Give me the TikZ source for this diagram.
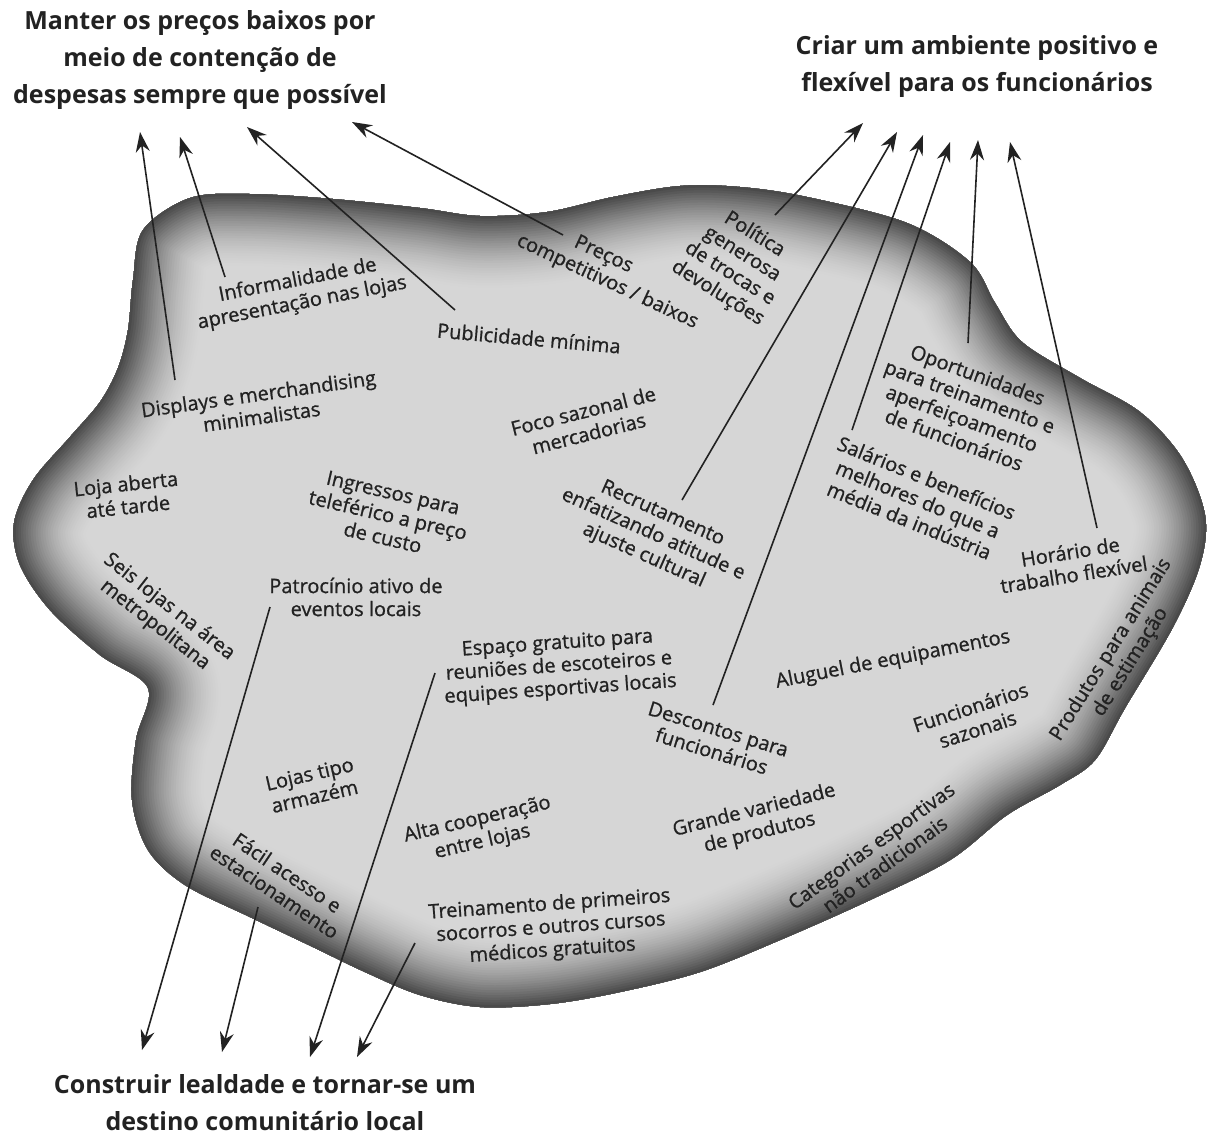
\documentclass[tikz,border=0pt]{standalone}
\usepackage{fontspec}
\setmainfont{Open Sans}
\newfontfamily\lblfont{Open Sans}[FakeBold=0.9]
\usetikzlibrary{arrows.meta}
\definecolor{rimdark}{HTML}{4A4A4A}
\definecolor{rimlight}{HTML}{D6D6D6}
\definecolor{ink}{HTML}{222222}
\newcommand\blobshape{plot[smooth cycle, tension=0.55] coordinates {
(143,230) (133,280) (128,330) (118,368) (100,402) (70,437) (33,480) (14,523) (20,565) (50,610) (100,655) (148,688)
(136,740) (132,800) (148,850) (185,885) (250,917) (313,947) (365,972) (420,995) (480,1007) (550,1004) (620,992)
(700,972) (780,940) (870,900) (950,860) (1007,815) (1060,785) (1095,760) (1125,708) (1173,627) (1200,565) (1205,515)
(1182,458) (1140,412) (1080,378) (1022,342) (995,303) (970,262) (907,223) (807,197) (740,187) (680,186) (613,197)
(547,212) (480,216) (420,208) (333,199) (250,194) (190,198)}}
\tikzset{
 lbl/.style={font=\lblfont\fontsize{20}{23}\selectfont, text=ink, align=center, inner sep=0pt},
 goal/.style={font=\bfseries\fontsize{25}{37}\selectfont, text=ink, align=center, inner sep=0pt},
 arr/.style={draw=ink, line width=1.6pt, -{Stealth[length=20pt,width=14pt]}}
}
\begin{document}
\begin{tikzpicture}[x=1pt,y=-1pt]
\useasboundingbox[fill=white] (0,0) rectangle (1214,1141);
% blob with shaded rim
\fill[rimlight] \blobshape;
\begin{scope}
\clip \blobshape;
\foreach \k in {0,...,29}{
  \pgfmathsetmacro{\w}{2*74*(30-\k)/30}
  \pgfmathsetmacro{\f}{100*((\k+1)/30)^1.7}
  \draw[line width=\w pt, color=rimdark!\f!rimlight, line join=round] \blobshape;
}
\end{scope}

% goals
\node[goal] (g1) at (200,60) {Manter os preços baixos por\\meio de contenção de\\despesas sempre que possível};
\node[goal] (g2) at (977,67) {Criar um ambiente positivo e\\flexível para os funcionários};
\node[goal] (g3) at (265,1103) {Construir lealdade e tornar-se um\\destino comunitário local};

% labels
\node[lbl, rotate=11] (inf) at (300,292) {Informalidade de\\apresentação nas lojas};
\node[lbl, rotate=-5] (pub) at (529,338) {Publicidade mínima};
\node[lbl, rotate=-25] (pre) at (612,272) {Preços\makebox[30pt]{}\\competitivos / baixos};
\node[lbl, rotate=-32] (pol) at (736,264) {Política\\generosa\\de trocas e\\devoluções};
\node[lbl, rotate=8] (dis) at (260,405) {Displays e merchandising\\minimalistas};
\node[lbl, rotate=14] (foc) at (586,422) {Foco sazonal de\\mercadorias};
\node[lbl, rotate=6] (loj) at (127,495) {Loja aberta\\até tarde};
\node[lbl, rotate=-38] (sei) at (162,616) {Seis lojas na área\\metropolitana};
\node[lbl, rotate=-13] (ing) at (388,515) {Ingressos para\\teleférico a preço\\de custo};
\node[lbl] (pat) at (356,597) {Patrocínio ativo de\\eventos locais};
\node[lbl, rotate=-24] (rec) at (653,535) {Recrutamento\\enfatizando atitude e\\ajuste cultural};
\node[lbl, rotate=-20] (opo) at (966,407) {Oportunidades\\para treinamento e\\aperfeiçoamento\\de funcionários};
\node[lbl, rotate=-22] (sal) at (918,499) {Salários e benefícios\\melhores do que a\\média da indústria};
\node[lbl, rotate=9] (hor) at (1072,563) {Horário de\\trabalho flexível};
\node[lbl, rotate=58] (prd) at (1121,656) {Produtos para animais\\de estimação};
\node[lbl, rotate=4] (esp) at (559,667) {Espaço gratuito para\\reuniões de escoteiros e\\equipes esportivas locais};
\node[lbl, rotate=11] (alu) at (893,660) {Aluguel de equipamentos};
\node[lbl, rotate=-17] (des) at (715,740) {Descontos para\\funcionários};
\node[lbl, rotate=18] (fun) at (974,718) {Funcionários\\sazonais};
\node[lbl, rotate=14] (gra) at (757,822) {Grande variedade\\de produtos};
\node[lbl, rotate=36] (cat) at (878,855) {Categorias esportivas\\não tradicionais};
\node[lbl, rotate=13] (lti) at (312,785) {Lojas tipo\\armazém};
\node[lbl, rotate=13] (alt) at (480,831) {Alta cooperação\\entre lojas};
\node[lbl, rotate=-34] (fac) at (281,882) {Fácil acesso e\\estacionamento};
\node[lbl, rotate=4] (tre) at (551,928) {Treinamento de primeiros\\socorros e outros cursos\\médicos gratuitos};

% connector ends
\coordinate (s1) at (175,380);  \coordinate (t1) at (140,132);
\coordinate (s2) at (225,277);  \coordinate (t2) at (180,137);
\coordinate (s3) at (455,310);  \coordinate (t3) at (247,127);
\coordinate (s4) at (563,235);  \coordinate (t4) at (352,122);
\coordinate (s5) at (775,215);  \coordinate (t5) at (863,123);
\coordinate (s6) at (682,500);  \coordinate (t6) at (897,132);
\coordinate (s7) at (713,705);  \coordinate (t7) at (923,135);
\coordinate (s8) at (852,430);  \coordinate (t8) at (950,142);
\coordinate (s9) at (968,343);  \coordinate (t9) at (978,140);
\coordinate (s10) at (1097,528); \coordinate (t10) at (1010,142);
\coordinate (s11) at (270,607); \coordinate (t11) at (142,1050);
\coordinate (s12) at (258,907); \coordinate (t12) at (222,1052);
\coordinate (s13) at (435,673); \coordinate (t13) at (310,1057);
\coordinate (s14) at (415,943); \coordinate (t14) at (357,1057);

\foreach \i in {1,...,14}{ \draw[arr] (s\i) -- (t\i); }
\end{tikzpicture}
\end{document}
